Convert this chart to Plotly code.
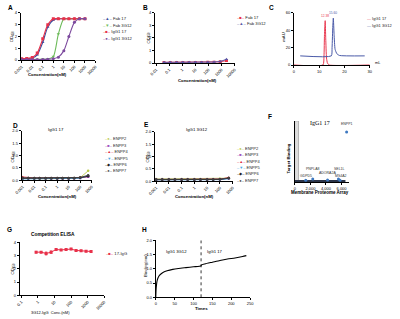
import plotly.graph_objects as go

W, H = 400, 319
FONT = "Liberation Sans"

# ---------------- data ----------------
# Panel A
conc_A = [0.001, 0.003, 0.01, 0.03, 0.1, 0.3, 1, 3, 10, 30, 100, 300, 1000]
A_fab17 = [0.10, 0.12, 0.18, 0.45, 1.50, 2.80, 3.40, 3.50, 3.50, 3.50, 3.50, 3.50, 3.50]
A_fab3g12 = [0.05, 0.05, 0.05, 0.06, 0.07, 0.10, 0.30, 2.20, 3.50, 3.50, 3.50, 3.50, 3.50]
A_igg17 = [0.12, 0.14, 0.22, 0.60, 1.80, 3.00, 3.50, 3.50, 3.50, 3.50, 3.50, 3.50, 3.50]
A_igg3g12 = [0.04, 0.04, 0.05, 0.05, 0.06, 0.08, 0.12, 0.25, 0.80, 2.00, 3.20, 3.50, 3.50]
A_ticks = [0.001, 0.01, 0.1, 1, 10, 100, 1000, 10000]
A_ticktext = ["0.001", "0.01", "0.1", "1", "10", "100", "1000", "10000"]

# Panel B
conc_B = [0.04, 0.12, 0.37, 1.1, 3.3, 10, 30, 90, 270, 800, 2400]
B_fab17 = [0.05, 0.05, 0.05, 0.05, 0.05, 0.05, 0.05, 0.06, 0.07, 0.10, 0.20]
B_fab3g12 = [0.06, 0.06, 0.06, 0.06, 0.06, 0.06, 0.06, 0.07, 0.08, 0.12, 0.30]
B_ticks = [0.01, 0.1, 1, 10, 100, 1000, 10000]
B_ticktext = ["0.01", "0.1", "1", "10", "100", "1000", "10000"]

# Panel C
C_ml_17 = [0, 11.5, 11.9, 12.1, 12.38, 12.6, 12.9, 13.3, 14.0, 30]
C_mau_17 = [0, 0, 10, 35, 51, 30, 8, 2, 0, 0]
C_ml_3g12 = [2.5, 14.8, 15.1, 15.4, 15.6, 15.9, 16.3, 17.0, 18.0, 28]
C_mau_3g12 = [10.5, 10.5, 20, 45, 54, 35, 18, 13, 11, 10.5]
C_peaks = ["12.38", "15.60"]

# Panels D / E
conc_DE = [0.001, 0.003, 0.01, 0.03, 0.1, 0.3, 1, 3, 10, 30, 100, 500]
DE_names = ["ENPP2", "ENPP3", "ENPP4", "ENPP5", "ENPP6", "ENPP7"]
D_values = [
    [0.07, 0.06, 0.06, 0.06, 0.06, 0.06, 0.06, 0.06, 0.06, 0.07, 0.10, 0.38],
    [0.08, 0.07, 0.07, 0.07, 0.07, 0.07, 0.07, 0.07, 0.07, 0.08, 0.09, 0.14],
    [0.13, 0.10, 0.09, 0.09, 0.09, 0.09, 0.09, 0.09, 0.09, 0.09, 0.11, 0.15],
    [0.05, 0.05, 0.05, 0.05, 0.05, 0.05, 0.05, 0.05, 0.05, 0.06, 0.08, 0.18],
    [0.08, 0.08, 0.08, 0.08, 0.08, 0.08, 0.08, 0.08, 0.08, 0.08, 0.10, 0.16],
    [0.09, 0.09, 0.08, 0.08, 0.08, 0.08, 0.08, 0.08, 0.08, 0.09, 0.11, 0.20],
]
E_values = [
    [0.09, 0.09, 0.09, 0.09, 0.09, 0.09, 0.09, 0.09, 0.09, 0.09, 0.10, 0.12],
    [0.07, 0.07, 0.07, 0.07, 0.07, 0.07, 0.07, 0.07, 0.07, 0.07, 0.08, 0.11],
    [0.06, 0.06, 0.06, 0.06, 0.06, 0.06, 0.06, 0.06, 0.06, 0.07, 0.08, 0.15],
    [0.05, 0.05, 0.05, 0.05, 0.05, 0.05, 0.05, 0.05, 0.05, 0.05, 0.06, 0.10],
    [0.06, 0.06, 0.06, 0.06, 0.06, 0.06, 0.06, 0.06, 0.06, 0.06, 0.07, 0.12],
    [0.07, 0.07, 0.07, 0.07, 0.07, 0.07, 0.07, 0.07, 0.07, 0.07, 0.08, 0.13],
]
DE_ticks = [0.001, 0.01, 0.1, 1, 10, 100, 1000]
DE_ticktext = ["0.001", "0.01", "0.1", "1", "10", "100", "1000"]

# Panel F
F_baseline_x = [0, 6500]
F_baseline_y = [0.015, 0.015]
F_gene = ["GDPD5", "PNPLA8", "ADORA2A", "SEL1L", "MS4A2", "ENPP1"]
F_index = [1400, 2300, 4200, 5600, 5800, 6650]
F_binding = [0.03, 0.05, 0.035, 0.05, 0.03, 0.82]
F_bar_x = [250]
F_bar_y = [1.0]

# Panel G
conc_G = [0.78, 1.56, 3.125, 6.25, 12.5, 25, 50, 100, 200, 400, 800, 1600]
G_17IgG = [3.25, 3.25, 3.15, 3.25, 3.45, 3.42, 3.45, 3.48, 3.38, 3.35, 3.32, 3.30]
G_err = [0.06, 0.05, 0.12, 0.10, 0.06, 0.05, 0.05, 0.05, 0.06, 0.05, 0.05, 0.05]
G_ticks = [0.1, 1, 10, 100, 1000, 10000]
G_ticktext = ["0.1", "1", "10", "100", "1000", "10000"]

# Panel H
H_time = [0, 0.5, 1, 2, 3, 5, 8, 12, 20, 30, 45, 60, 80, 100, 120, 120.5, 130, 150, 170, 190, 210, 230, 240]
H_binding = [0, 0.20, 0.32, 0.45, 0.55, 0.65, 0.74, 0.80, 0.88, 0.93, 0.98, 1.01, 1.04, 1.07, 1.10,
             1.13, 1.17, 1.23, 1.29, 1.34, 1.38, 1.43, 1.46]
H_switch = 120

# ---------------- helpers ----------------
def xdom(a, b):
    return [a / W, b / W]


def ydom(bottom, top):
    return [1 - bottom / H, 1 - top / H]


def axis(**kw):
    d = dict(showline=True, linecolor="black", linewidth=0.8, ticks="outside", ticklen=2,
             tickwidth=0.7, tickcolor="black", showgrid=False, zeroline=False,
             tickfont=dict(family=FONT, size=4, color="black"))
    d.update(kw)
    return d


def px(xp, yp):
    return xp / W, 1 - yp / H


annotations = []


def text(xp, yp, s, size=4.5, bold=False, angle=0, xanchor="center", color="black", family=FONT):
    x, y = px(xp, yp)
    if bold:
        s = "<b>" + s + "</b>"
    annotations.append(dict(x=x, y=y, xref="paper", yref="paper", text=s, showarrow=False,
                            xanchor=xanchor, yanchor="middle", textangle=angle,
                            font=dict(family=family, size=size, color=color)))


def legend(xp, yp, color, symbol, label, size=4.2):
    x, y = px(xp, yp)
    sym = f"–{symbol}–" if symbol else "—"
    annotations.append(dict(x=x, y=y, xref="paper", yref="paper", showarrow=False,
                            xanchor="left", yanchor="middle",
                            text=f"<span style='color:{color}'>{sym}</span> {label}",
                            font=dict(family=FONT, size=size, color="#222")))


fig = go.Figure()

# ---------------- Panel A ----------------
A_series = [("Fab 17", A_fab17, "#3b4fa0", "triangle-up", "▲"),
            ("Fab 3G12", A_fab3g12, "#6dbb5a", "triangle-down", "▼"),
            ("IgG1 17", A_igg17, "#e8314a", "square", "■"),
            ("IgG1 3G12", A_igg3g12, "#7d4a9e", "circle", "●")]
for i, (name, vals, col, sym, glyph) in enumerate(A_series):
    fig.add_trace(go.Scatter(x=conc_A, y=vals, xaxis="x", yaxis="y", mode="lines+markers",
                             line=dict(color=col, width=1.1, shape="spline", smoothing=0.7),
                             marker=dict(symbol=sym, size=3, color=col), showlegend=False))
    legend(97, 16 + i * 6.7, col, glyph, name)

# ---------------- Panel B ----------------
for i, (name, vals, col, sym, glyph) in enumerate([("Fab 17", B_fab17, "#e8314a", "square", "■"),
                                                    ("Fab 3G12", B_fab3g12, "#5a5aa8", "triangle-up", "▲")]):
    fig.add_trace(go.Scatter(x=conc_B, y=vals, xaxis="x2", yaxis="y2", mode="lines+markers",
                             line=dict(color=col, width=1.0), marker=dict(symbol=sym, size=3, color=col),
                             showlegend=False))
    legend(234, 15 + i * 6.3, col, glyph, name)

# ---------------- Panel C ----------------
fig.add_trace(go.Scatter(x=C_ml_17, y=C_mau_17, xaxis="x3", yaxis="y3", mode="lines",
                         line=dict(color="#e8384f", width=1.0, shape="spline", smoothing=0.5), showlegend=False))
fig.add_trace(go.Scatter(x=C_ml_3g12, y=C_mau_3g12, xaxis="x3", yaxis="y3", mode="lines",
                         line=dict(color="#4a5aa8", width=1.0, shape="spline", smoothing=0.5), showlegend=False))
annotations.append(dict(x=C_ml_17[4], y=C_mau_17[4], xref="x3", yref="y3", text=C_peaks[0], showarrow=False,
                        yanchor="bottom", yshift=1, font=dict(family=FONT, size=3.2, color="#e8384f")))
annotations.append(dict(x=C_ml_3g12[4], y=C_mau_3g12[4], xref="x3", yref="y3", text=C_peaks[1], showarrow=False,
                        yanchor="bottom", yshift=1, font=dict(family=FONT, size=3.2, color="#4a5aa8")))
legend(368, 16, "#e8384f", "", "IgG1 17", size=4)
legend(368, 23, "#4a5aa8", "", "IgG1 3G12", size=4)

# ---------------- Panels D / E ----------------
DE_style = [("#b9c94a", "circle", "●"), ("#a052c0", "square", "■"), ("#e03040", "triangle-up", "▲"),
            ("#45a5e0", "triangle-down", "▼"), ("#202020", "diamond", "◆"), ("#404040", "circle", "●")]
for i, name in enumerate(DE_names):
    col, sym, glyph = DE_style[i]
    fig.add_trace(go.Scatter(x=conc_DE, y=D_values[i], xaxis="x4", yaxis="y4", mode="lines+markers",
                             line=dict(color=col, width=0.9), marker=dict(symbol=sym, size=2.5, color=col),
                             showlegend=False))
    fig.add_trace(go.Scatter(x=conc_DE, y=E_values[i], xaxis="x5", yaxis="y5", mode="lines+markers",
                             line=dict(color=col, width=0.9), marker=dict(symbol=sym, size=2.5, color=col),
                             showlegend=False))
    legend(99, 138 + i * 6.5, col, glyph, name, size=4)
    legend(234, 148 + i * 6.4, col, glyph, name, size=4)

# ---------------- Panel F ----------------
fig.add_trace(go.Bar(x=F_bar_x, y=F_bar_y, width=500, xaxis="x6", yaxis="y6",
                     marker=dict(color="#dcdcdc", line=dict(color="#8a8a8a", width=0.6)), showlegend=False))
fig.add_trace(go.Scatter(x=F_baseline_x, y=F_baseline_y, xaxis="x6", yaxis="y6", mode="lines",
                         line=dict(color="#2b3448", width=2.6), showlegend=False))
fig.add_trace(go.Scatter(x=F_index, y=F_binding, xaxis="x6", yaxis="y6", mode="markers",
                         marker=dict(color="#3d78c0", size=3), showlegend=False))
F_shift = [(0, 4), (0, 10), (0, 7), (1, 10), (1, 4), (0, 4)]
for g, xv, yv, (dx, dy) in zip(F_gene, F_index, F_binding, F_shift):
    annotations.append(dict(x=xv, y=yv, xref="x6", yref="y6", text=g, showarrow=False, xshift=dx, yshift=dy,
                            yanchor="bottom" if g == "ENPP1" else "middle",
                            font=dict(family=FONT, size=3.5, color="#333")))

# ---------------- Panel G ----------------
fig.add_trace(go.Scatter(x=conc_G, y=G_17IgG, xaxis="x7", yaxis="y7", mode="lines+markers",
                         line=dict(color="#e8314a", width=1.0),
                         marker=dict(symbol="square", size=3, color="#e8314a"),
                         error_y=dict(type="data", array=G_err, color="#e8314a", thickness=0.6, width=1.2),
                         showlegend=False))
legend(100, 254, "#e8314a", "■", "17-IgG")

# ---------------- Panel H ----------------
fig.add_trace(go.Scatter(x=H_time, y=H_binding, xaxis="x8", yaxis="y8", mode="lines",
                         line=dict(color="black", width=1.1, shape="spline", smoothing=0.6), showlegend=False))
fig.add_trace(go.Scatter(x=[H_switch, H_switch], y=[0, 2.0], xaxis="x8", yaxis="y8", mode="lines",
                         line=dict(color="black", width=0.8, dash="dot"), showlegend=False))
annotations.append(dict(x=55, y=1.6, xref="x8", yref="y8", text="IgG1 3G12", showarrow=False,
                        font=dict(family=FONT, size=4.2, color="black")))
annotations.append(dict(x=157, y=1.6, xref="x8", yref="y8", text="IgG1 17", showarrow=False,
                        font=dict(family=FONT, size=4.2, color="black")))

# ---------------- titles / labels ----------------
for letter, xp, yp in [("A", 4, 5), ("B", 142, 5), ("C", 272, 5), ("D", 9, 124), ("E", 143, 123),
                       ("F", 270, 115), ("G", 3, 230), ("H", 141, 230)]:
    text(xp, yp, letter, size=6.5, bold=True)

OD = "OD<sub>450</sub>"
text(6, 34, OD, size=4.2, angle=-90)
text(146, 35, OD, size=4.2, angle=-90)
text(6, 156, OD, size=4.2, angle=-90)
text(145, 156, OD, size=4.2, angle=-90)
text(6, 270, OD, size=4.2, angle=-90)
text(42, 73, "Concentration(nM)", size=4.3, bold=True)
text(196, 79, "Concentration(nM)", size=4.3, bold=True)
text(52, 197, "Concentration(nM)", size=4.3, bold=True)
text(193, 197, "Concentration(nM)", size=4.3, bold=True)
text(284, 35, "mAU", size=4.2, angle=-90)
text(376, 61, "mL", size=3.8, xanchor="left")
text(50, 129, "IgG1 17", size=4.3)
text(195, 129, "IgG1 3G12", size=4.3)
text(322, 122, "IgG1 17", size=6, family="Liberation Serif")
text(289, 158, "Target Binding", size=4.3, bold=True, angle=-90)
text(322, 193, "Membrane Proteome Array", size=4.5, bold=True)
text(47, 235, "Competition ELISA", size=4.8, bold=True)
text(45, 314, "3G12-IgG  Conc.(nM)", size=4)
text(143, 267, "Binding(nm)", size=4.2, angle=-90)
text(200, 310, "Times", size=4.4, bold=True)

log_common = dict(type="log", tickangle=-45)

fig.update_layout(
    width=W, height=H, margin=dict(l=0, r=0, t=0, b=0),
    paper_bgcolor="white", plot_bgcolor="white", showlegend=False,
    font=dict(family=FONT),
    annotations=annotations,
    xaxis=axis(domain=xdom(14, 91), range=[-3.1, 4], anchor="y", tickvals=A_ticks, ticktext=A_ticktext, **log_common),
    yaxis=axis(domain=ydom(58, 10), range=[0, 4], anchor="x", tickvals=[0, 1, 2, 3, 4]),
    xaxis2=axis(domain=xdom(152, 234), range=[-2.1, 4], anchor="y2", tickvals=B_ticks, ticktext=B_ticktext, **log_common),
    yaxis2=axis(domain=ydom(61, 10), range=[0, 4], anchor="x2", tickvals=[0, 1, 2, 3, 4]),
    xaxis3=axis(domain=xdom(295, 373), range=[0, 30], anchor="y3", tickvals=[0, 10, 20, 30]),
    yaxis3=axis(domain=ydom(63, 10), range=[0, 60], anchor="x3", tickvals=[0, 20, 40, 60]),
    xaxis4=axis(domain=xdom(15, 87), range=[-3.1, 3], anchor="y4", tickvals=DE_ticks, ticktext=DE_ticktext, **log_common),
    yaxis4=axis(domain=ydom(180, 130), range=[0, 2], anchor="x4", tickvals=[0, 0.5, 1, 1.5, 2],
                ticktext=["0.0", "0.5", "1.0", "1.5", "2.0"]),
    xaxis5=axis(domain=xdom(152, 232), range=[-3.1, 3], anchor="y5", tickvals=DE_ticks, ticktext=DE_ticktext, **log_common),
    yaxis5=axis(domain=ydom(181, 131), range=[0, 2], anchor="x5", tickvals=[0, 0.5, 1, 1.5, 2],
                ticktext=["0.0", "0.5", "1.0", "1.5", "2.0"]),
    xaxis6=axis(domain=xdom(296, 352), range=[0, 7000], anchor="y6", tickvals=[0, 2000, 4000, 6000],
                ticktext=["0", "2,000", "4,000", "6,000"]),
    yaxis6=axis(domain=ydom(182, 120), range=[0, 1], anchor="x6", showticklabels=False, ticks=""),
    xaxis7=axis(domain=xdom(13, 100), range=[-1.1, 4], anchor="y7", tickvals=G_ticks, ticktext=G_ticktext, **log_common),
    yaxis7=axis(domain=ydom(297, 243), range=[0, 4], anchor="x7", tickvals=[0, 1, 2, 3, 4]),
    xaxis8=axis(domain=xdom(153, 250), range=[0, 250], anchor="y8", tickvals=[0, 50, 100, 150, 200, 250]),
    yaxis8=axis(domain=ydom(299, 241), range=[0, 2], anchor="x8", tickvals=[0, 0.5, 1, 1.5, 2],
                ticktext=["0.0", "0.5", "1.0", "1.5", "2.0"]),
    bargap=0,
)

fig.write_html("out.html", config={"displayModeBar": False},
               post_script="document.body.style.margin='0';document.body.style.padding='0';")
